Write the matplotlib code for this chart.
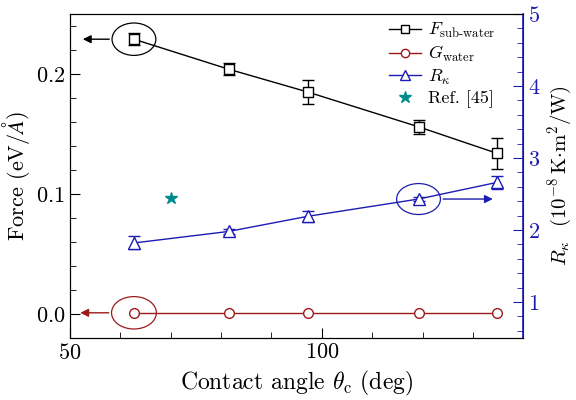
import numpy as np
import matplotlib.pyplot as plt
from matplotlib.patches import Ellipse
from matplotlib.lines import Line2D
from matplotlib.ticker import MultipleLocator

plt.rcParams['font.family'] = 'serif'
plt.rcParams['font.serif'] = ['cmr10', 'DejaVu Serif']
plt.rcParams['mathtext.fontset'] = 'cm'
plt.rcParams['axes.formatter.use_mathtext'] = True
plt.rcParams['axes.unicode_minus'] = False

# data
angle = [62.7, 81.5, 97.2, 119.2, 134.7]
f_sub = [0.229, 0.204, 0.185, 0.156, 0.134]
f_err = [0.005, 0.005, 0.010, 0.006, 0.013]
g_water = [0.001, 0.001, 0.001, 0.001, 0.001]
r_kappa = [1.82, 1.98, 2.19, 2.43, 2.66]
r_err = [0.09, 0.04, 0.08, 0.03, 0.09]
ref_angle = [70.0]
ref_r = [2.45]

black = 'black'
red = '#9e1a1a'
blue = '#1c1cb4'
teal = '#008b8b'

fig = plt.figure(figsize=(5.76, 4.0), dpi=100)
ax = fig.add_axes([0.1215, 0.155, 0.787, 0.81])
ax2 = ax.twinx()

ax.errorbar(angle, f_sub, yerr=f_err, color=black, marker='s', mfc='white',
            ms=7, lw=1, capsize=4, elinewidth=1)
ax.plot(angle, g_water, color=red, marker='o', mfc='white', ms=7, lw=1)
ax2.errorbar(angle, r_kappa, yerr=r_err, color=blue, marker='^', mfc='white',
             ms=8, lw=1, capsize=4, elinewidth=1)
ax2.plot(ref_angle, ref_r, ls='none', marker='*', color=teal, ms=9)

ax.set_xlim(50, 140)
ax.set_ylim(-0.02, 0.25)
ax2.set_ylim(0.5, 5)
ax.xaxis.set_major_locator(MultipleLocator(50))
ax.xaxis.set_minor_locator(MultipleLocator(10))
ax.yaxis.set_major_locator(MultipleLocator(0.1))
ax.yaxis.set_minor_locator(MultipleLocator(0.02))
ax2.yaxis.set_major_locator(MultipleLocator(1))
ax2.yaxis.set_minor_locator(MultipleLocator(0.2))

ax.tick_params(which='both', direction='in', top=False, right=False, labelsize=16)
ax.tick_params(which='major', length=7)
ax.tick_params(which='minor', length=4)
ax2.tick_params(which='both', direction='in', colors=blue, labelsize=16)
ax2.tick_params(which='major', length=7)
ax2.tick_params(which='minor', length=4)
ax2.spines['right'].set_color(blue)
ax2.spines['right'].set_linewidth(1.2)

ax.set_xlabel(r'Contact angle $\theta_{\rm c}$ (deg)', fontsize=17, labelpad=4)
ax.set_ylabel(r'Force (eV/$\AA$)', fontsize=16)
ax.yaxis.set_label_coords(-0.083, 0.5)
ax2.set_ylabel(r'$R_\kappa$  $(10^{-8}\,{\rm K{\cdot}m^2/W})$', fontsize=15)
ax2.yaxis.set_label_coords(1.05, 0.5)

# ellipses and arrows
ax.add_patch(Ellipse((angle[0], f_sub[0]), 8.7, 0.027, fill=False, ec=black, lw=0.9))
ax.annotate('', xy=(52, f_sub[0]), xytext=(angle[0] - 4.35, f_sub[0]),
            arrowprops=dict(arrowstyle='-|>', color=black, lw=1, mutation_scale=12))
ax.add_patch(Ellipse((angle[0], g_water[0]), 8.9, 0.027, fill=False, ec=red, lw=0.9))
ax.annotate('', xy=(51.5, g_water[0]), xytext=(angle[0] - 4.45, g_water[0]),
            arrowprops=dict(arrowstyle='-|>', color=red, lw=1, mutation_scale=12))
ax2.add_patch(Ellipse((angle[3], r_kappa[3]), 8.7, 0.43, fill=False, ec=blue, lw=0.9))
ax2.annotate('', xy=(134.5, r_kappa[3]), xytext=(angle[3] + 4.35, r_kappa[3]),
             arrowprops=dict(arrowstyle='-|>', color=blue, lw=1, mutation_scale=12))

handles = [
    Line2D([], [], color=black, marker='s', mfc='white', ms=6, lw=1),
    Line2D([], [], color=red, marker='o', mfc='white', ms=6, lw=1),
    Line2D([], [], color=blue, marker='^', mfc='white', ms=7, lw=1),
    Line2D([], [], ls='none', color=teal, marker='*', ms=9),
]
labels = [r'$F_{\rm sub\text{-}water}$', r'$G_{\rm water}$', r'$R_\kappa$', 'Ref. [45]']
ax2.legend(handles, labels, loc='upper right', bbox_to_anchor=(0.955, 1.0),
           frameon=False, fontsize=13, handlelength=1.8, handletextpad=0.4,
           borderaxespad=0.1, labelspacing=0.2, borderpad=0.3)

fig.savefig('out.png', dpi=100)
